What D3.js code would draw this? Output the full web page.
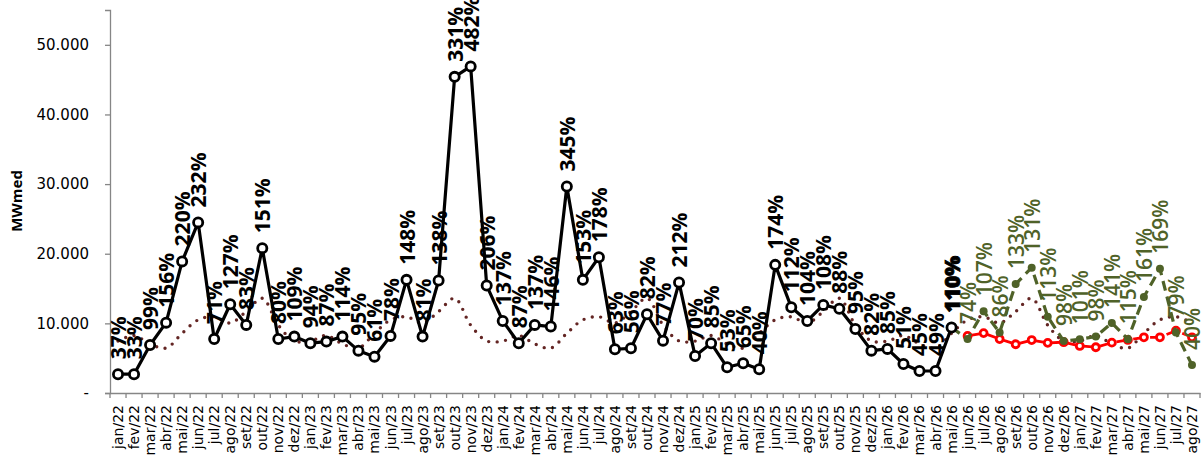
<!DOCTYPE html>
<html>
<head>
<meta charset="utf-8">
<script src="https://cdn.jsdelivr.net/npm/d3@7"></script>
<style>
  html, body { margin: 0; padding: 0; background: #ffffff; }
  svg { display: block; }
</style>
</head>
<body>
<svg id="chart" width="1201" height="466"></svg>
<script>
// ---------------- DATA ----------------
const months = [
  "jan/22","fev/22","mar/22","abr/22","mai/22","jun/22","jul/22","ago/22","set/22","out/22","nov/22","dez/22",
  "jan/23","fev/23","mar/23","abr/23","mai/23","jun/23","jul/23","ago/23","set/23","out/23","nov/23","dez/23",
  "jan/24","fev/24","mar/24","abr/24","mai/24","jun/24","jul/24","ago/24","set/24","out/24","nov/24","dez/24",
  "jan/25","fev/25","mar/25","abr/25","mai/25","jun/25","jul/25","ago/25","set/25","out/25","nov/25","dez/25",
  "jan/26","fev/26","mar/26","abr/26","mai/26","jun/26","jul/26","ago/26","set/26","out/26","nov/26","dez/26",
  "jan/27","fev/27","mar/27","abr/27","mai/27","jun/27","jul/27","ago/27"
];

// long-term average (dotted line), one value per month
const mltValues = [
  7450, 8250, 7050, 6450, 8580, 10500, 10950, 10050, 11700, 13600, 9750, 7480,
  7450, 8250, 7050, 6450, 8580, 10500, 10950, 10050, 11700, 13600, 9750, 7480,
  7450, 8250, 7050, 6450, 8580, 10500, 10950, 10050, 11700, 13600, 9750, 7480,
  7450, 8250, 7050, 6450, 8580, 10500, 10950, 10050, 11700, 13600, 9750, 7480,
  7450, 8250, 7050, 6450, 8580, 10500, 10950, 10050, 11700, 13600, 9750, 7480,
  7450, 8250, 7050, 6450, 8580, 10500, 10950, 10050
];

// observed series (jan/22 .. mai/26)
const observedMonths = months.slice(0, 53);
const observedValues = [
  2700, 2700, 6900, 10100, 18900, 24500, 7760, 12750, 9780, 20800, 7760, 8100,
  7150, 7380, 8100, 6080, 5220, 8200, 16250, 8100, 16150, 45400, 46900, 15430,
  10350, 7150, 9780, 9540, 29660, 16250, 19500, 6280, 6420, 11300, 7520, 15860,
  5320, 7150, 3690, 4270, 3400, 18400, 12320, 10350, 12650, 12100, 9180, 6080,
  6330, 4170, 3160, 3160, 9400
];
const observedLabels = [
  "37%","33%","99%","156%","220%","232%","71%","127%","83%","151%","80%","109%",
  "94%","87%","114%","95%","61%","78%","148%","81%","138%","331%","482%","206%",
  "137%","87%","137%","146%","345%","153%","178%","63%","56%","82%","77%","212%",
  "70%","85%","53%","65%","40%","174%","112%","104%","108%","88%","95%","82%",
  "85%","51%","45%","49%","110%"
];

// scenario series (green dashed, mai/26 .. ago/27)
const scenarioMonths = months.slice(52);
const scenarioValues = [
  9400, 7760, 11750, 8680, 15650, 18000, 10950, 7450,
  7720, 8100, 10060, 7720, 13800, 17850, 8680, 4030
];
const scenarioLabels = [
  "", "74%","107%","86%","133%","131%","113%","98%",
  "101%","98%","141%","115%","161%","169%","79%","40%"
];

// forecast series (red, jun/26 .. ago/27)
const forecastMonths = months.slice(53);
const forecastValues = [
  8200, 8600, 7750, 7000, 7600, 7200, 7300,
  6760, 6570, 7230, 7620, 8000, 8000, 8950, 8000
];

const yTicks = [0, 10000, 20000, 30000, 40000, 50000];

// ---------------- CHART ----------------
const svg = d3.select("#chart");
const mLeft = 110, mRight = 1200, mTop = 10, mBottom = 393;

const x = d3.scaleBand().domain(months).range([mLeft, mRight]).padding(0);
const y = d3.scaleLinear().domain([0, 55000]).range([mBottom, mTop]);
const cx = m => x(m) + x.bandwidth() / 2;

const fmt = v => v === 0 ? "-" : d3.format(",")(v).replace(/,/g, ".");

// Y axis
const yAxis = d3.axisLeft(y).tickValues(yTicks).tickSize(5).tickPadding(16).tickFormat(fmt);
const gy = svg.append("g").attr("transform", `translate(${mLeft},0)`).call(yAxis);
gy.select(".domain").attr("stroke", "#868686").attr("stroke-width", 1.3);
gy.selectAll(".tick line").attr("stroke", "#868686").attr("stroke-width", 1.3);
gy.selectAll(".tick text")
  .attr("font-family", "DejaVu Sans").attr("font-size", 15).attr("fill", "#000");

// X axis
const xAxis = d3.axisBottom(x).tickSize(0).tickSizeOuter(0);
const gx = svg.append("g").attr("transform", `translate(0,${mBottom})`).call(xAxis);
gx.select(".domain").attr("stroke", "#868686").attr("stroke-width", 1.3);
gx.selectAll(".tick text")
  .attr("font-family", "DejaVu Sans").attr("font-size", 14).attr("fill", "#000")
  .attr("transform", "rotate(-90)")
  .attr("text-anchor", "end")
  .attr("dominant-baseline", "central")
  .attr("x", -12).attr("y", 0).attr("dy", null);
// boundary tick marks
svg.append("g").selectAll("line")
  .data(months.concat(["__end"]))
  .join("line")
  .attr("x1", (d, i) => mLeft + i * x.step())
  .attr("x2", (d, i) => mLeft + i * x.step())
  .attr("y1", mBottom).attr("y2", mBottom + 5)
  .attr("stroke", "#868686").attr("stroke-width", 1.3);

// Y title
svg.append("text")
  .attr("transform", `translate(16,201) rotate(-90)`)
  .attr("text-anchor", "middle").attr("dominant-baseline", "central")
  .attr("font-family", "Open Sans").attr("font-weight", "bold").attr("font-size", 15)
  .text("MWmed");

// MLT dotted
const mltData = months.map((m, i) => ({ m, v: mltValues[i] }));
svg.append("path")
  .datum(mltData)
  .attr("fill", "none")
  .attr("stroke", "#632523")
  .attr("stroke-width", 3.4)
  .attr("stroke-linecap", "round")
  .attr("stroke-dasharray", "0,8.5")
  .attr("d", d3.line().x(d => cx(d.m)).y(d => y(d.v)).curve(d3.curveCatmullRom.alpha(0.5)));

// Observed
const obs = observedMonths.map((m, i) => ({ m, v: observedValues[i], l: observedLabels[i] }));
const line = d3.line().x(d => cx(d.m)).y(d => y(d.v));
svg.append("path").datum(obs)
  .attr("fill", "none").attr("stroke", "#000").attr("stroke-width", 3.2)
  .attr("stroke-linejoin", "round").attr("d", line);

// Forecast red
const fc = forecastMonths.map((m, i) => ({ m, v: forecastValues[i] }));
svg.append("path").datum(fc)
  .attr("fill", "none").attr("stroke", "#ff0000").attr("stroke-width", 2.8)
  .attr("stroke-dasharray", "12,5").attr("d", line);
svg.append("g").selectAll("circle").data(fc).join("circle")
  .attr("cx", d => cx(d.m)).attr("cy", d => y(d.v)).attr("r", 3.5)
  .attr("fill", "#fff").attr("stroke", "#ff0000").attr("stroke-width", 2.8);

// Scenario green dashed
const green = "#4f6228";
const sc = scenarioMonths.map((m, i) => ({ m, v: scenarioValues[i], l: scenarioLabels[i] }));
svg.append("path").datum(sc)
  .attr("fill", "none").attr("stroke", green).attr("stroke-width", 3.2)
  .attr("stroke-dasharray", "10,6").attr("d", line);
svg.append("g").selectAll("circle").data(sc.slice(1)).join("circle")
  .attr("cx", d => cx(d.m)).attr("cy", d => y(d.v)).attr("r", 4)
  .attr("fill", green);

// observed markers
svg.append("g").selectAll("circle").data(obs).join("circle")
  .attr("cx", d => cx(d.m)).attr("cy", d => y(d.v)).attr("r", 4.6)
  .attr("fill", "#fff").attr("stroke", "#000").attr("stroke-width", 2.8);

// Labels
svg.append("g").selectAll("text").data(obs).join("text")
  .attr("transform", d => `translate(${cx(d.m)},${y(d.v) - 15}) rotate(-90)`)
  .attr("text-anchor", "start").attr("dominant-baseline", "central")
  .attr("font-family", "Open Sans").attr("font-size", 21)
  .attr("font-weight", (d, i) => i === obs.length - 1 ? "900" : "700")
  .attr("stroke", (d, i) => i === obs.length - 1 ? "#000" : "none")
  .attr("stroke-width", 0.8)
  .attr("fill", "#000")
  .text(d => d.l);

svg.append("g").selectAll("text").data(sc.filter(d => d.l !== "")).join("text")
  .attr("transform", d => `translate(${cx(d.m)},${y(d.v) - 15}) rotate(-90)`)
  .attr("text-anchor", "start").attr("dominant-baseline", "central")
  .attr("font-family", "Open Sans").attr("font-size", 21).attr("font-weight", "600")
  .attr("fill", green)
  .text(d => d.l);
</script>
</body>
</html>
